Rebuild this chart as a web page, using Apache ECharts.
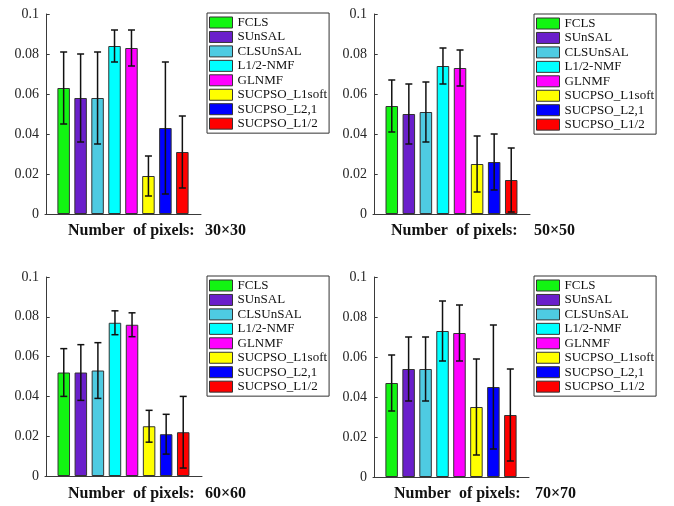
<!DOCTYPE html>
<html>
<head>
<meta charset="utf-8">
<script src="https://cdn.jsdelivr.net/npm/echarts@6/dist/echarts.min.js"></script>
<style>html,body{margin:0;padding:0;background:#fff}#c{width:674px;height:506px}</style>
</head>
<body>
<div id="c"></div>
<script>
// ---- data ----
var methods = ['FCLS', 'SUnSAL', 'CLSUnSAL', 'L1/2-NMF', 'GLNMF', 'SUCPSO_L1soft', 'SUCPSO_L2,1', 'SUCPSO_L1/2'];
var panelLabels = ['30\u00d730', '50\u00d750', '60\u00d760', '70\u00d770'];
var yTicks = [0, 0.02, 0.04, 0.06, 0.08, 0.1];
var mean30 = [0.063, 0.058, 0.058, 0.084, 0.083, 0.019, 0.043, 0.031];
var err30  = [0.018, 0.022, 0.023, 0.008, 0.009, 0.010, 0.033, 0.018];
var mean50 = [0.054, 0.050, 0.051, 0.074, 0.073, 0.025, 0.026, 0.017];
var err50  = [0.013, 0.015, 0.015, 0.009, 0.009, 0.014, 0.014, 0.016];
var mean60 = [0.052, 0.052, 0.053, 0.077, 0.076, 0.025, 0.021, 0.022];
var err60  = [0.012, 0.014, 0.014, 0.006, 0.006, 0.008, 0.010, 0.018];
var mean70 = [0.047, 0.054, 0.054, 0.073, 0.072, 0.035, 0.045, 0.031];
var err70  = [0.014, 0.016, 0.016, 0.015, 0.014, 0.024, 0.031, 0.023];

// ---- styles ----
var colors = ['#12f512', '#6a1fcb', '#4ecbe2', '#00ffff', '#ff00ff', '#ffff00', '#0000ff', '#ff0000'];
var FONT = '"Liberation Serif", "Times New Roman", serif';
var means = [mean30, mean50, mean60, mean70];
var errs = [err30, err50, err60, err70];
var grids = [
  {left: 45, top: 14, width: 156, height: 200},
  {left: 373, top: 14, width: 157, height: 200},
  {left: 45, top: 277, width: 157, height: 199},
  {left: 373, top: 277, width: 156, height: 200}
];
var legendPos = [
  {left: 207, top: 13}, {left: 534, top: 14}, {left: 207, top: 276}, {left: 534, top: 276}
];
var labelPos = [
  {x: 131, y: 232, vx: 205}, {x: 454, y: 232, vx: 534},
  {x: 131, y: 495, vx: 205}, {x: 457, y: 495, vx: 535}
];

var option = {
  animation: false,
  backgroundColor: '#fff',
  grid: grids.map(function (g) { return Object.assign({containLabel: false}, g); }),
  xAxis: grids.map(function (g, p) {
    return {
      type: 'value', gridIndex: p, min: -0.1, max: 9.1,
      axisLine: {show: true, lineStyle: {color: '#3a3a3a', width: 1}},
      axisTick: {show: false}, axisLabel: {show: false}, splitLine: {show: false}
    };
  }),
  yAxis: grids.map(function (g, p) {
    return {
      type: 'value', gridIndex: p, min: yTicks[0], max: yTicks[yTicks.length - 1], interval: 0.02,
      axisLine: {show: true, lineStyle: {color: '#3a3a3a', width: 1}},
      axisTick: {show: true, inside: true, length: 3, lineStyle: {color: '#3a3a3a'}},
      axisLabel: {color: '#262626', fontFamily: FONT, fontSize: 14, margin: 6},
      splitLine: {show: false}
    };
  }),
  legend: legendPos.map(function (lp) {
    return {
      left: lp.left, top: lp.top, orient: 'vertical', data: methods,
      icon: 'rect', itemWidth: 23, itemHeight: 11, itemGap: 1.45, itemStyle: {borderColor: '#333', borderWidth: 1},
      padding: [3, 2, 3, 2], itemTextGap: 1,
      backgroundColor: '#fff', borderColor: '#333', borderWidth: 1, borderRadius: 0,
      textStyle: {fontFamily: FONT, fontSize: 13, color: '#111'},
      selectedMode: false
    };
  }),
  graphic: [],
  series: []
};

labelPos.forEach(function (lp, p) {
  option.graphic.push({
    type: 'text', left: lp.x - 63, top: lp.y - 9,
    style: {text: 'Number  of pixels:', font: 'bold 16px ' + FONT, fill: '#111'}
  });
  option.graphic.push({
    type: 'text', left: lp.vx, top: lp.y - 9,
    style: {text: panelLabels[p], font: 'bold 16px ' + FONT, fill: '#111'}
  });
});

for (var p = 0; p < 4; p++) {
  for (var i = 0; i < methods.length; i++) {
    option.series.push({
      type: 'bar', name: methods[i], xAxisIndex: p, yAxisIndex: p,
      barWidth: 12.5, barGap: '-100%',
      itemStyle: {color: colors[i], borderColor: '#333', borderWidth: 1},
      data: [[i + 1, means[p][i]]]
    });
  }
  (function (pp) {
    option.series.push({
      type: 'custom', xAxisIndex: pp, yAxisIndex: pp, z: 10,
      data: means[pp].map(function (m, i) { return [i + 1, m, errs[pp][i]]; }),
      renderItem: function (params, api) {
        var x = api.value(0), m = api.value(1), e = api.value(2);
        var top = api.coord([x, m + e]);
        var bot = api.coord([x, m - e]);
        var hw = 3.5;
        var st = {stroke: '#111', lineWidth: 1.5};
        return {
          type: 'group',
          children: [
            {type: 'line', shape: {x1: top[0], y1: top[1], x2: bot[0], y2: bot[1]}, style: st},
            {type: 'line', shape: {x1: top[0] - hw, y1: top[1], x2: top[0] + hw, y2: top[1]}, style: st},
            {type: 'line', shape: {x1: bot[0] - hw, y1: bot[1], x2: bot[0] + hw, y2: bot[1]}, style: st}
          ]
        };
      }
    });
  })(p);
}

var chart = echarts.init(document.getElementById('c'), null, {renderer: 'canvas'});
chart.setOption(option);
</script>
</body>
</html>
